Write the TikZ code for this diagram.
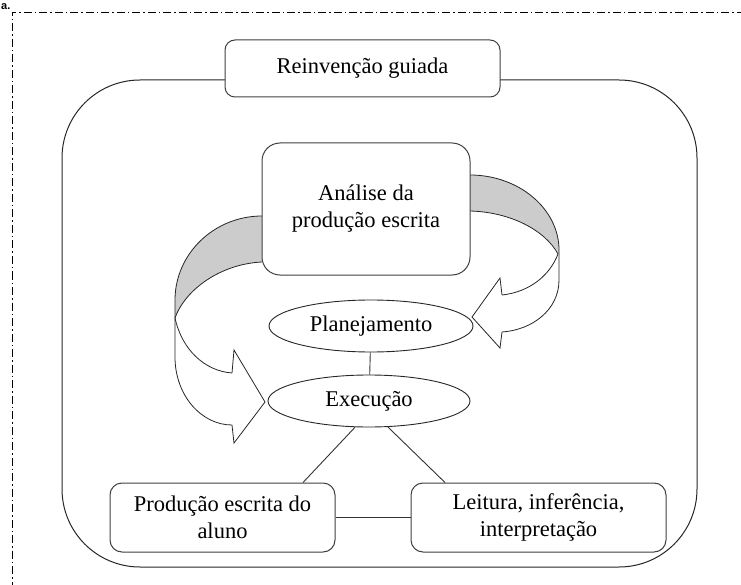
\documentclass[tikz,border=0pt]{standalone}
\usepackage{fontspec}
\setmainfont{Liberation Serif}
\newfontfamily\tagfont{Liberation Sans}
\usepackage{tikz}
\usetikzlibrary{shapes.geometric}

\begin{document}
\begin{tikzpicture}
[x=1pt,y=-1pt,
 box/.style={rectangle,rounded corners=12pt,draw=black!75,line width=1pt,fill=white,align=center,inner sep=0pt,font=\fontsize{22.5}{27}\selectfont},
 oval/.style={ellipse,draw=black!85,line width=0.9pt,inner sep=0pt,font=\fontsize{22.5}{27}\selectfont},
 ribbon/.style={draw=black!85,line width=0.8pt},
 link/.style={draw=black!80,line width=0.9pt}]

\useasboundingbox (0,0) rectangle (741,585);
\clip (0,0) rectangle (741,585);

\node[anchor=base west,font=\tagfont\bfseries\fontsize{11}{11}\selectfont,inner sep=0pt] (tag) at (1,9.5) {a.};
\draw [dash pattern=on 8pt off 3pt on 1.5pt off 3pt,line width=0.8pt] (760,12) -- (12,12) -- (12,600);

% outer frame
\draw [draw=black!85,line width=1pt,rounded corners=78pt] (62,80) rectangle (697,567);

\node[box,rounded corners=10pt,minimum width=275pt,minimum height=57pt] (guiada) at (362.5,68.5) {Reinven\c{c}\~ao guiada};

% left curved arrow
\fill [gray!40] (262,216) .. controls (214,216) and (175,254) .. (175,300) -- (175,318)
  .. controls (185,290) and (220,264) .. (262,262) -- cycle;
\draw [ribbon] (262,216) .. controls (214,216) and (175,254) .. (175,300) -- (175,357)
  .. controls (175,395) and (201,425) .. (232,425);
\draw [ribbon] (262,262) .. controls (220,264) and (185,290) .. (175,318)
  .. controls (182,350) and (205,371) .. (232,373);
\draw [ribbon] (232,373) -- (234,350) -- (265,402) -- (234,443) -- (232,425);

% right curved arrow
\fill [gray!40] (470,175) .. controls (519,175) and (559,209) .. (559,250) -- (559,254)
  .. controls (545,230) and (510,212) .. (470,211) -- cycle;
\draw [ribbon] (470,175) .. controls (519,175) and (559,209) .. (559,250) -- (559,280)
  .. controls (559,310) and (532,330) .. (502,332);
\draw [ribbon] (470,211) .. controls (510,212) and (545,230) .. (558,254)
  .. controls (550,275) and (530,292) .. (502,295);
\draw [ribbon] (502,295) -- (500,278) -- (472,317) -- (500,348) -- (502,332);

\node[box,rounded corners=18pt,minimum width=208pt,minimum height=132pt] (analise) at (366,209) {An\'alise da\\produ\c{c}\~ao escrita};

\node[oval,minimum width=204pt,minimum height=52pt] (plan) at (371,326) {Planejamento};
\node[oval,minimum width=202pt,minimum height=52pt] (exec) at (369,401) {Execu\c{c}\~ao};

\node[box,minimum width=225pt,minimum height=69pt] (prod) at (222.5,517.5) {Produ\c{c}\~ao escrita do\\aluno};
\node[box,minimum width=255pt,minimum height=69pt] (leit) at (538.5,517.5) {Leitura, infer\^encia,\\interpreta\c{c}\~ao};

\draw [link] (plan) -- (exec);
\draw [link] (exec.242) -- ([xshift=80.5pt]prod.north);
\draw [link] (exec.-54) -- ([xshift=-93.5pt]leit.north);
\draw [link] (prod) -- (leit);
\end{tikzpicture}
\end{document}
